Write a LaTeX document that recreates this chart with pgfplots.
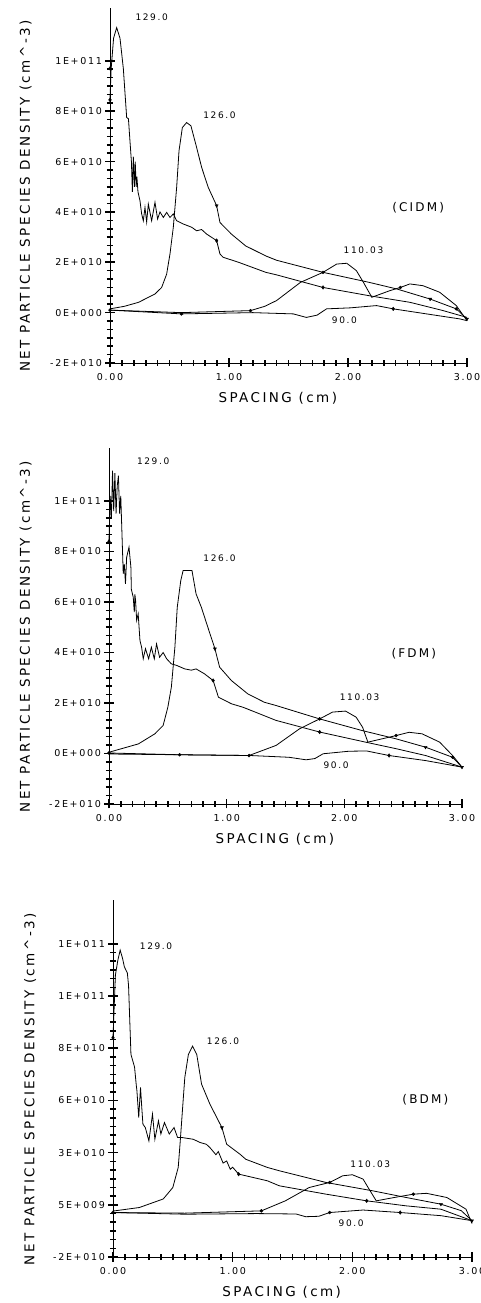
\documentclass[border=0pt]{standalone}
\usepackage{pgfplots}
\pgfplotsset{compat=1.18}
\usepackage{fontspec}
\setmainfont{DejaVu Sans}[LetterSpace=18]

\tikzset{
  ann/.style={font=\fontsize{9}{10}\selectfont},
  big/.style={font=\fontsize{12}{14}\selectfont},
}
\pgfplotsset{
  panel/.style={
    scale only axis, anchor=south west,
    xmin=0, xmax=3,
    axis lines*=left, axis line style={line width=0.9pt},
    tick align=center,
    major tick length=9pt, minor tick length=6pt,
    tick style={black, line width=1.6pt},
    xtick={0,1,2,3}, xticklabels={0.00,1.00,2.00,3.00},
    minor x tick num=9, minor y tick num=5,
    tick label style={font=\fontsize{9.5}{11}\selectfont},
    label style={font=\fontsize{13.5}{15}\selectfont},
    xlabel={SPACING (cm)},
    ylabel={NET PARTICLE SPECIES DENSITY (cm\textasciicircum{}-3)},
    xlabel style={at={(axis description cs:0.47,-0.10)}, anchor=center},
    ylabel style={at={(axis description cs:-0.236,0.47)}, anchor=center},
    xticklabel style={yshift=-2pt},
    clip=false,
  },
  crv/.style={black, line width=0.8pt, mark=none},
  mk/.style={only marks, black, mark size=1.8pt},
}

\begin{document}
\begin{tikzpicture}
\path[use as bounding box] (0,0) rectangle (480pt,1303pt);

% ---------------- Panel 1 (CIDM) ----------------
\begin{axis}[panel, at={(110pt,940pt)}, width=357pt, height=355pt,
  ymin=-2, ymax=12.1,
  ytick={-2,0,2,4,6,8,10},
  yticklabels={-2E+010,0E+000,2E+010,4E+010,6E+010,8E+010,1E+011}]
\addplot[crv] coordinates {
(0,8.5)(0.01,9.7)(0.03,10.9)(0.056,11.32)(0.084,10.9)(0.112,9.7)(0.14,7.75)
(0.155,7.7)(0.168,6.8)(0.18,6.0)(0.188,4.8)(0.196,6.2)(0.205,5.0)(0.212,6.0)
(0.22,5.0)(0.226,5.4)(0.235,4.8)(0.252,4.44)(0.266,3.92)(0.28,3.65)(0.294,4.18)
(0.308,3.6)(0.322,4.31)(0.35,3.65)(0.378,4.38)(0.40,3.72)(0.42,4.0)(0.448,3.78)
(0.476,3.98)(0.504,3.78)(0.532,3.92)(0.56,3.65)(0.616,3.52)(0.687,3.39)
(0.728,3.25)(0.77,3.30)(0.812,3.12)(0.854,2.99)(0.896,2.86)(0.924,2.33)
(0.95,2.2)(1.08,2.0)(1.31,1.6)(1.40,1.5)(1.79,1.0)(2.18,0.67)(2.52,0.41)
(2.80,0.08)(3.0,-0.19)};
\addplot[crv] coordinates {
(0,0.15)(0.12,0.25)(0.24,0.41)(0.378,0.74)(0.434,1.0)(0.476,1.53)(0.504,2.33)
(0.532,3.39)(0.56,4.97)(0.58,6.43)(0.608,7.35)(0.644,7.55)(0.68,7.42)
(0.728,6.56)(0.77,5.77)(0.826,4.97)(0.896,4.25)(0.924,3.58)(1.02,3.12)
(1.14,2.65)(1.31,2.25)(1.40,2.08)(1.79,1.60)(2.18,1.20)(2.41,0.94)
(2.69,0.54)(2.91,0.15)(3.0,-0.25)};
\addplot[crv] coordinates {
(0,0.1)(0.6,0.0)(1.18,0.08)(1.30,0.25)(1.40,0.48)(1.60,1.2)(1.79,1.6)
(1.905,1.93)(1.99,1.96)(2.07,1.67)(2.13,1.2)(2.20,0.61)(2.35,0.87)(2.44,1.0)
(2.52,1.14)(2.63,1.07)(2.77,0.81)(2.91,0.28)(3.0,-0.32)};
\addplot[crv] coordinates {
(0,0.1)(0.6,-0.05)(1.2,0.0)(1.54,-0.05)(1.65,-0.19)(1.74,-0.1)(1.82,0.15)
(2.02,0.19)(2.24,0.28)(2.38,0.15)(2.66,-0.05)(2.94,-0.25)(3.0,-0.32)};
\addplot[mk, mark=triangle*, mark options={rotate=180}] coordinates {(0.896,4.25)(2.69,0.54)(3.0,-0.25)};
\addplot[mk, mark=diamond*] coordinates {(0,9.7)(0,8.45)(0.896,2.86)(1.79,1.0)(2.38,0.15)};
\addplot[mk, mark=*, mark size=1.5pt] coordinates {(1.79,1.6)(2.44,1.0)(2.91,0.15)(0,0.1)(0.6,-0.05)(1.18,0.08)};
\node[ann] at (axis cs:0.35,11.75) {129.0};
\node[ann] at (axis cs:0.92,7.86) {126.0};
\node[ann] at (axis cs:2.13,2.46) {110.03};
\node[ann] at (axis cs:1.97,-0.29) {90.0};
\node[big] at (axis cs:2.59,4.18) {(CIDM)};
\end{axis}

% ---------------- Panel 2 (FDM) ----------------
\begin{axis}[panel, at={(109pt,499pt)}, width=353pt, height=356pt,
  ymin=-2, ymax=12.1,
  ytick={-2,0,2,4,6,8,10},
  yticklabels={-2E+010,0E+000,2E+010,4E+010,6E+010,8E+010,1E+011}]
\addplot[crv] coordinates {
(0,8.4)(0.01,10.2)(0.02,9.3)(0.03,11.2)(0.04,9.6)(0.05,11.1)(0.06,9.5)
(0.07,10.6)(0.08,11.0)(0.09,9.5)(0.10,10.2)(0.121,7.12)(0.13,7.5)(0.14,6.72)
(0.15,7.77)(0.17,8.17)(0.186,7.38)(0.19,6.5)(0.206,6.19)(0.215,5.6)(0.22,6.3)
(0.226,6.06)(0.235,5.27)(0.248,5.53)(0.263,4.48)(0.277,4.21)(0.291,3.75)
(0.31,4.15)(0.337,3.75)(0.36,4.21)(0.385,3.75)(0.404,4.34)(0.43,3.81)
(0.46,4.0)(0.49,3.75)(0.53,3.55)(0.574,3.49)(0.644,3.35)(0.70,3.3)(0.74,3.35)
(0.81,3.16)(0.885,2.89)(0.93,2.23)(1.04,1.97)(1.14,1.83)(1.21,1.70)
(1.42,1.31)(1.79,0.85)(2.18,0.45)(2.44,0.19)(2.69,-0.08)(3.0,-0.54)};
\addplot[crv] coordinates {
(0,0.05)(0.25,0.38)(0.39,0.78)(0.46,1.11)(0.50,1.83)(0.53,2.63)(0.545,3.42)
(0.56,4.21)(0.58,5.79)(0.61,6.85)(0.63,7.25)(0.705,7.25)(0.74,6.32)
(0.785,5.79)(0.84,5.0)(0.90,4.15)(0.94,3.42)(1.04,2.89)(1.18,2.36)
(1.32,2.03)(1.42,1.9)(1.79,1.37)(2.15,0.91)(2.44,0.58)(2.69,0.25)
(2.92,-0.15)(3.0,-0.54)};
\addplot[crv] coordinates {
(0,-0.02)(0.6,-0.05)(1.19,-0.08)(1.42,0.32)(1.62,0.98)(1.79,1.37)(1.90,1.64)
(2.01,1.68)(2.10,1.44)(2.155,1.04)(2.20,0.45)(2.32,0.58)(2.44,0.71)
(2.55,0.84)(2.66,0.78)(2.81,0.45)(2.92,-0.08)(3.0,-0.54)};
\addplot[crv] coordinates {
(0,0.02)(0.6,-0.05)(1.2,-0.08)(1.53,-0.15)(1.675,-0.25)(1.75,-0.2)(1.82,-0.01)
(2.04,0.09)(2.19,0.1)(2.38,-0.08)(2.69,-0.28)(3.0,-0.54)};
\addplot[mk, mark=triangle*, mark options={rotate=180}] coordinates {(0.90,4.15)(2.69,0.25)(3.0,-0.54)};
\addplot[mk, mark=diamond*] coordinates {(0,8.4)(0.885,2.89)(1.79,0.85)(2.38,-0.08)};
\addplot[mk, mark=*, mark size=1.5pt] coordinates {(1.79,1.37)(2.44,0.71)(2.92,-0.15)(0,0.02)(0.6,-0.05)(1.19,-0.08)};
\node[ann] at (axis cs:0.375,11.56) {129.0};
\node[ann] at (axis cs:0.94,7.73) {126.0};
\node[ann] at (axis cs:2.13,2.23) {110.03};
\node[ann] at (axis cs:1.93,-0.45) {90.0};
\node[big] at (axis cs:2.59,3.95) {(FDM)};
\end{axis}

% ---------------- Panel 3 (BDM) ----------------
\begin{axis}[panel, at={(113pt,46pt)}, width=359pt, height=357pt,
  ymin=-2, ymax=15.1,
  ytick={-2,0.5,3,5.5,8,10.5,13},
  yticklabels={-2E+010,5E+009,3E+010,6E+010,8E+010,1E+011,1E+011},
  ylabel style={at={(axis description cs:-0.231,0.47)}}]
\addplot[crv] coordinates {
(0,8.5)(0.01,10.0)(0.02,11.5)(0.04,12.2)(0.06,12.7)(0.08,12.3)(0.095,11.9)
(0.12,11.6)(0.13,11.0)(0.15,7.7)(0.18,7.1)(0.195,6.2)(0.20,5.96)(0.215,4.68)
(0.23,6.12)(0.24,5.2)(0.25,4.36)(0.27,4.2)(0.30,3.56)(0.33,4.84)(0.35,3.64)
(0.38,4.52)(0.40,3.89)(0.43,4.44)(0.47,3.89)(0.51,4.2)(0.54,3.72)(0.58,3.72)
(0.67,3.64)(0.73,3.48)(0.78,3.4)(0.81,3.24)(0.86,2.9)(0.88,3.05)(0.92,2.5)
(0.95,2.6)(0.98,2.2)(1.0,2.3)(1.05,1.97)(1.29,1.65)(1.39,1.41)(1.78,1.01)
(2.12,0.69)(2.45,0.45)(2.74,0.29)(3.0,-0.26)};
\addplot[crv] coordinates {
(0,0.2)(0.22,0.37)(0.42,0.78)(0.50,1.33)(0.545,2.29)(0.56,3.4)(0.60,6.6)
(0.63,7.7)(0.665,8.1)(0.70,7.7)(0.74,6.28)(0.81,5.32)(0.91,4.2)(0.95,3.4)
(1.06,2.93)(1.11,2.68)(1.29,2.29)(1.39,2.13)(1.78,1.57)(2.17,1.17)
(2.45,0.85)(2.74,0.53)(2.91,0.22)(3.0,-0.26)};
\addplot[crv] coordinates {
(0,0.13)(0.6,0.1)(1.24,0.21)(1.44,0.69)(1.64,1.33)(1.81,1.57)(1.92,1.89)
(2.0,1.94)(2.09,1.73)(2.14,1.25)(2.2,0.69)(2.35,0.85)(2.51,1.01)(2.62,1.05)
(2.79,0.85)(2.95,0.29)(3.0,-0.4)};
\addplot[crv] coordinates {
(0,0.13)(0.6,0.05)(1.2,0.08)(1.53,0.06)(1.61,-0.07)(1.72,-0.05)(1.81,0.13)
(2.09,0.25)(2.4,0.13)(2.74,-0.02)(3.0,-0.26)};
\addplot[mk, mark=triangle*, mark options={rotate=180}] coordinates {(0.91,4.2)(2.74,0.53)(3.0,-0.26)};
\addplot[mk, mark=diamond*] coordinates {(0,8.5)(1.05,1.97)(2.12,0.69)(2.4,0.13)};
\addplot[mk, mark=*, mark size=1.5pt] coordinates {(1.81,1.57)(2.51,1.01)(0,0.13)(1.24,0.21)(1.81,0.13)};
\node[ann] at (axis cs:0.36,12.9) {129.0};
\node[ann] at (axis cs:0.92,8.35) {126.0};
\node[ann] at (axis cs:2.15,2.42) {110.03};
\node[ann] at (axis cs:1.99,-0.39) {90.0};
\node[big] at (axis cs:2.61,5.51) {(BDM)};
\end{axis}
\end{tikzpicture}
\end{document}
